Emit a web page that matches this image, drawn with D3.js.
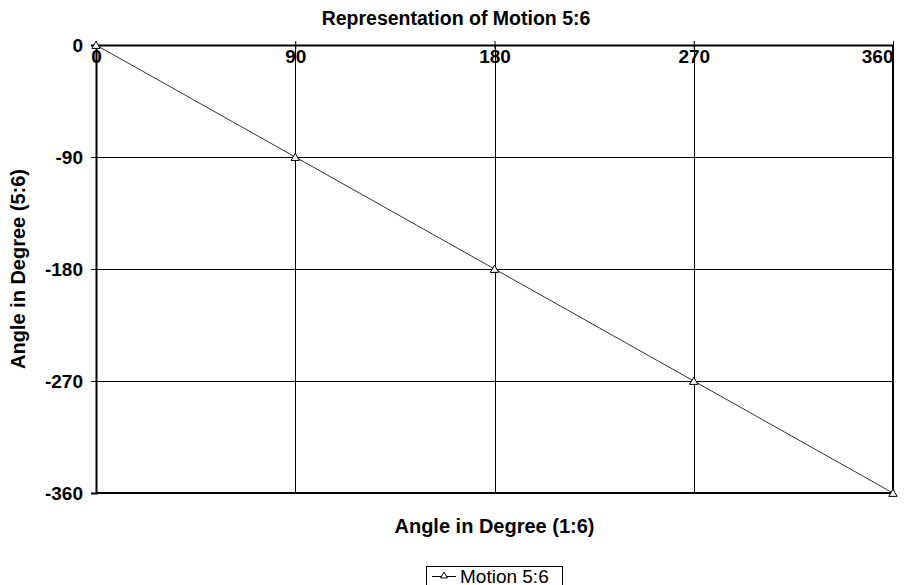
<!DOCTYPE html>
<html>
<head>
<meta charset="utf-8">
<script src="https://cdn.jsdelivr.net/npm/d3@7"></script>
<style>
  body { margin: 0; background: #fff; }
  text { font-family: "Liberation Sans", Arial, sans-serif; }
</style>
</head>
<body>
<div id="container"></div>
<script>
// data
const xAngles = [0, 90, 180, 270, 360];
const yAngles = [0, -90, -180, -270, -360];
const xTicks = [0, 90, 180, 270, 360];
const yTicks = [0, -90, -180, -270, -360];

const width = 914;
const height = 585;
const margin = {top: 45, right: 21, bottom: 92, left: 96};

const x = d3.scaleLinear().domain([0, 360]).range([margin.left, width - margin.right]);
const y = d3.scaleLinear().domain([0, -360]).range([margin.top, height - margin.bottom]);

const svg = d3.create("svg")
    .attr("width", width)
    .attr("height", height)
    .attr("viewBox", [0, 0, width, height]);

// grid lines
svg.append("g")
    .attr("stroke", "#000")
    .attr("stroke-width", 1)
    .selectAll()
    .data(xTicks.slice(1, -1))
    .join("line")
    .attr("x1", d => Math.round(x(d)) + 0.5)
    .attr("x2", d => Math.round(x(d)) + 0.5)
    .attr("y1", y(0))
    .attr("y2", y(-360));

svg.append("g")
    .attr("stroke", "#000")
    .attr("stroke-width", 1)
    .selectAll()
    .data(yTicks.slice(1, -1))
    .join("line")
    .attr("x1", x(0))
    .attr("x2", x(360))
    .attr("y1", d => Math.round(y(d)) + 0.5)
    .attr("y2", d => Math.round(y(d)) + 0.5);

// plot frame (right + bottom)
svg.append("path")
    .attr("fill", "none")
    .attr("stroke", "#000")
    .attr("stroke-width", 2)
    .attr("d", `M${x(360)},${y(0)}V${y(-360)}H${x(0)}`);

// x axis sits on the top edge (y = 0), labels below it
const xAxis = svg.append("g")
    .attr("transform", `translate(0,${y(0)})`)
    .call(d3.axisBottom(x).tickValues(xTicks).tickSize(0).tickPadding(5).tickFormat(d => String(d)));
xAxis.select(".domain").attr("stroke-width", 2);
xAxis.selectAll(".tick text")
    .attr("font-size", 19).attr("font-weight", "bold").attr("fill", "#000")
    .attr("font-family", "Liberation Sans, Arial, sans-serif")
    .attr("text-anchor", d => d === 360 ? "end" : "middle");
xAxis.selectAll(".tick").append("line")
    .attr("stroke", "#000").attr("y1", -4).attr("y2", 4);

const yAxis = svg.append("g")
    .attr("transform", `translate(${x(0)},0)`)
    .call(d3.axisLeft(y).tickValues(yTicks).tickSize(5).tickPadding(8).tickFormat(d => String(d)));
yAxis.select(".domain").attr("stroke-width", 2);
yAxis.selectAll(".tick text")
    .attr("font-size", 19).attr("font-weight", "bold").attr("fill", "#000")
    .attr("font-family", "Liberation Sans, Arial, sans-serif");

// series line
const pts = xAngles.map((d, i) => [d, yAngles[i]]);
svg.append("path")
    .datum(pts)
    .attr("fill", "none")
    .attr("stroke", "#333")
    .attr("stroke-width", 1)
    .attr("d", d3.line().x(d => x(d[0])).y(d => y(d[1])));

const tri = d3.symbol().type(d3.symbolTriangle).size(30);
svg.append("g")
    .selectAll()
    .data(pts)
    .join("path")
    .attr("d", tri)
    .attr("transform", d => `translate(${x(d[0])},${y(d[1]) + 1})`)
    .attr("fill", "#fff")
    .attr("stroke", "#000")
    .attr("stroke-width", 1);

// titles
svg.append("text")
    .attr("x", 456).attr("y", 25)
    .attr("text-anchor", "middle")
    .attr("font-size", 19.5).attr("font-weight", "bold")
    .text("Representation of Motion 5:6");

svg.append("text")
    .attr("x", (x(0) + x(360)) / 2).attr("y", 533)
    .attr("text-anchor", "middle")
    .attr("font-size", 20).attr("font-weight", "bold")
    .text("Angle in Degree (1:6)");

svg.append("text")
    .attr("transform", `translate(25,${(y(0) + y(-360)) / 2}) rotate(-90)`)
    .attr("text-anchor", "middle")
    .attr("font-size", 20).attr("font-weight", "bold")
    .text("Angle in Degree (5:6)");

// legend
const lg = svg.append("g").attr("transform", "translate(426,566)");
lg.append("rect")
    .attr("x", 0.5).attr("y", 0.5).attr("width", 136).attr("height", 24)
    .attr("fill", "#fff").attr("stroke", "#000");
lg.append("line")
    .attr("x1", 6).attr("x2", 30).attr("y1", 10.5).attr("y2", 10.5)
    .attr("stroke", "#000");
lg.append("path")
    .attr("d", d3.symbol().type(d3.symbolTriangle).size(20))
    .attr("transform", "translate(18,10)")
    .attr("fill", "#fff").attr("stroke", "#000");
lg.append("text")
    .attr("x", 34).attr("y", 16.5)
    .attr("font-size", 19)
    .text("Motion 5:6");

d3.select("#container").append(() => svg.node());
</script>
</body>
</html>
